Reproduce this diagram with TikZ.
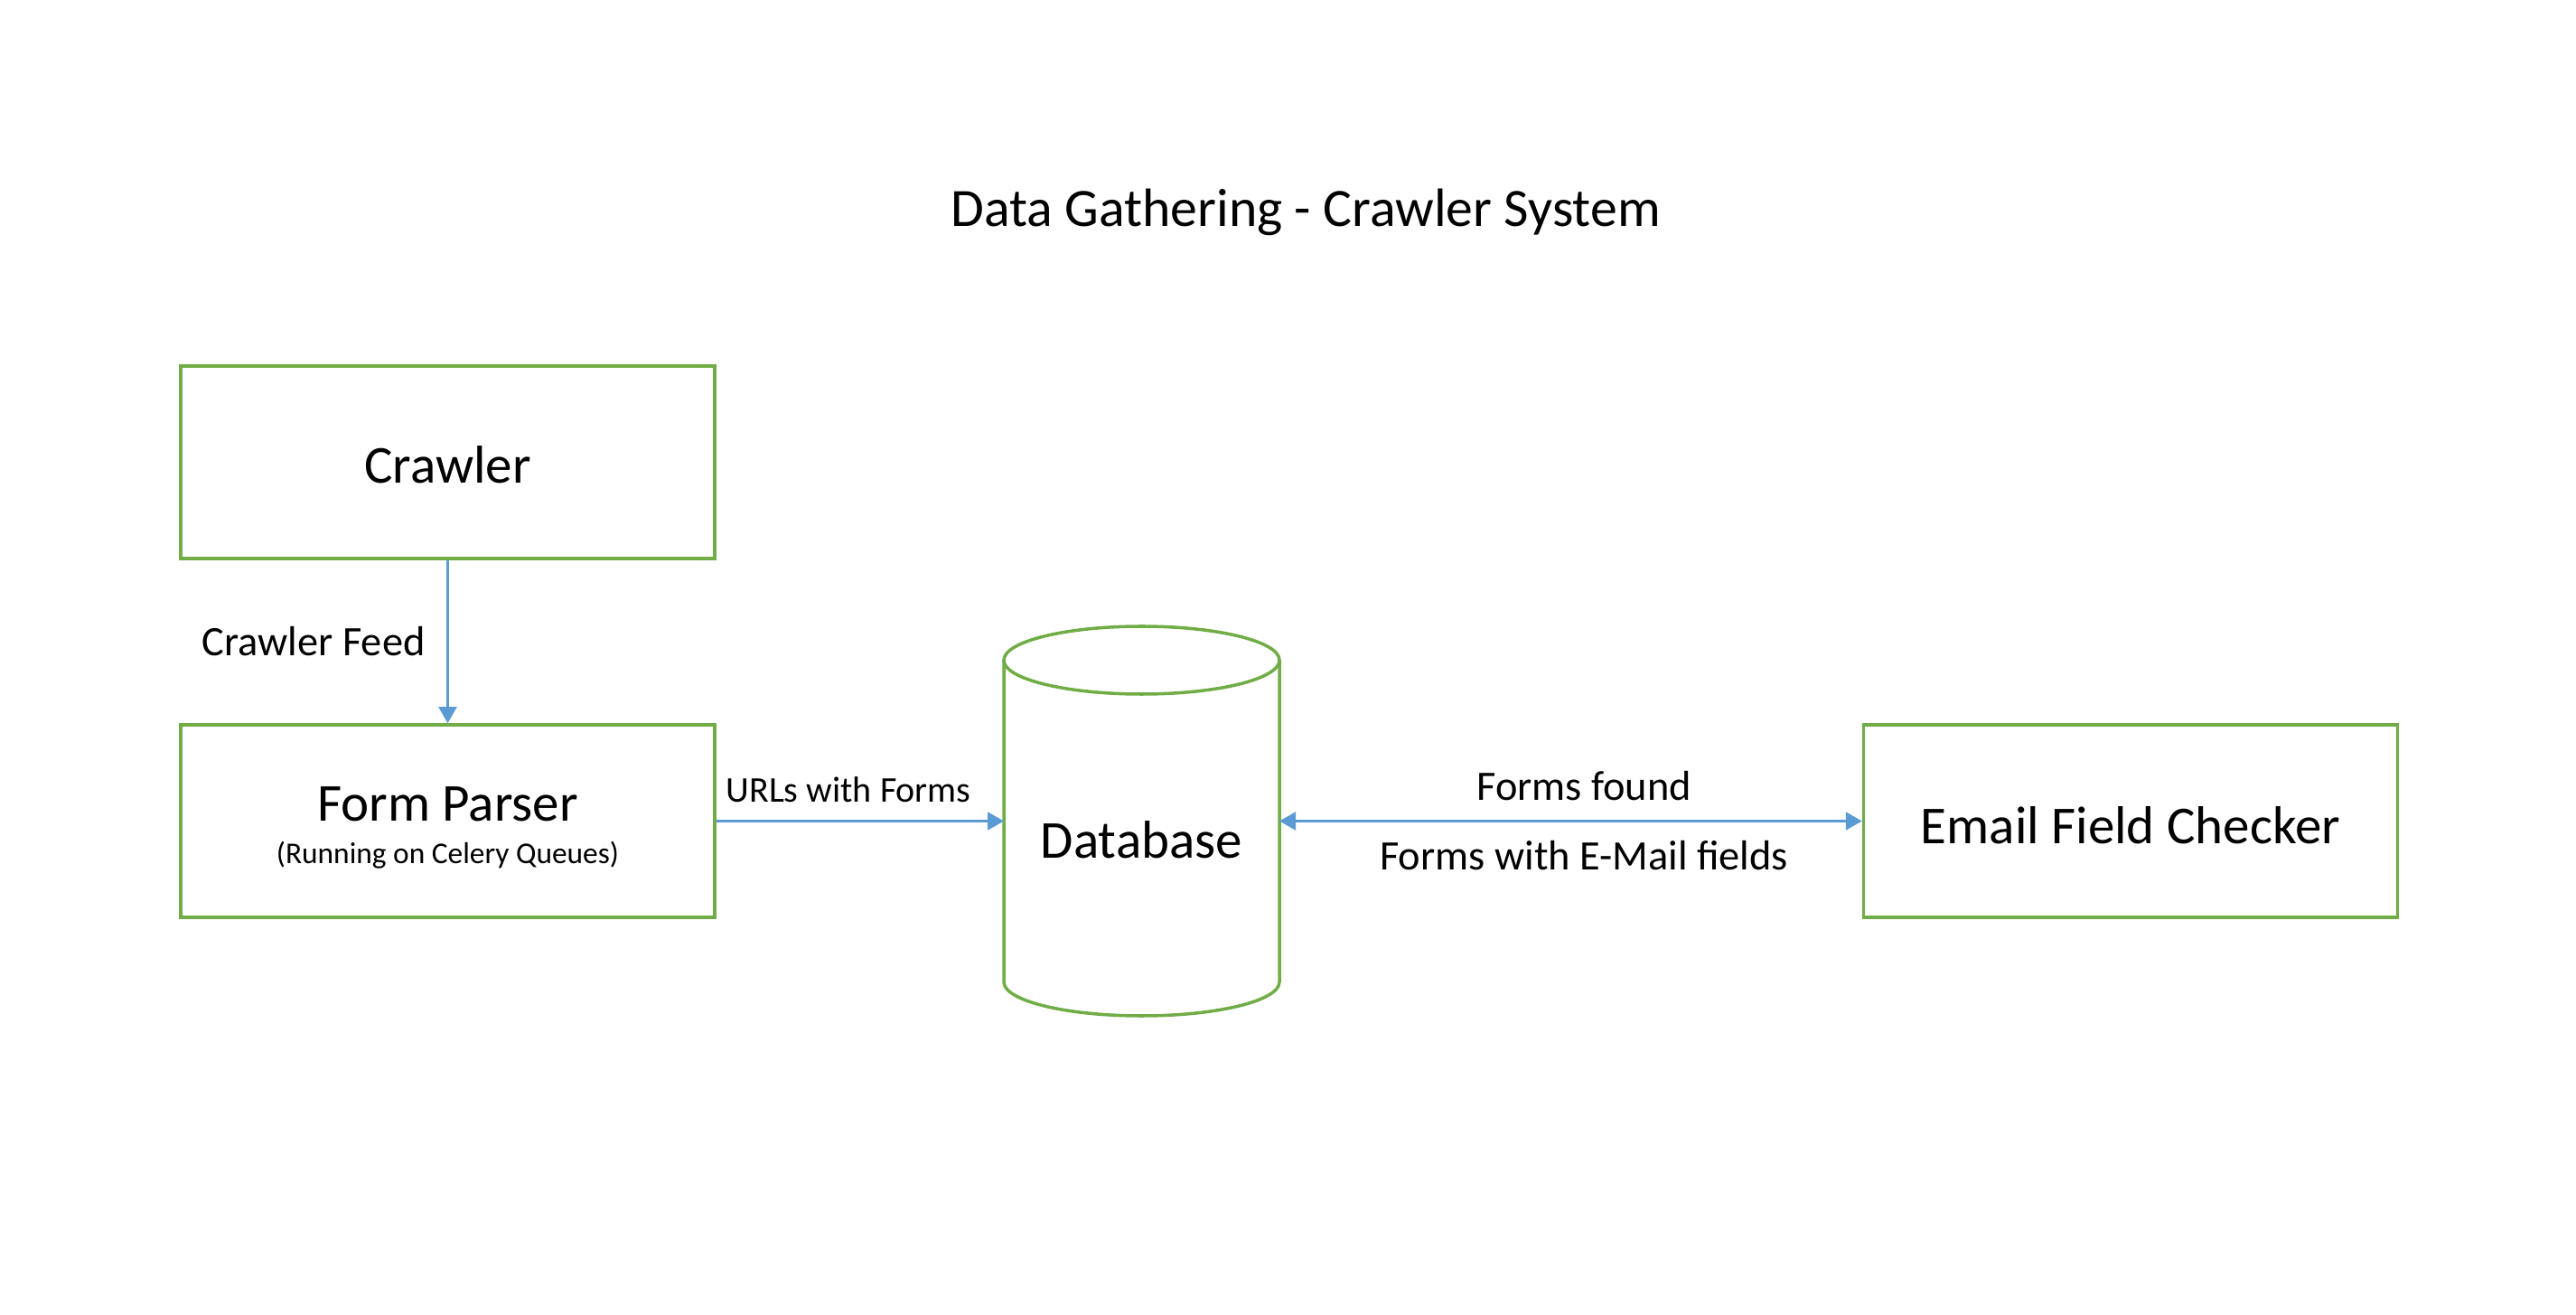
\documentclass[tikz,border=0pt]{standalone}
\usepackage{fontspec}
\setmainfont{Carlito}
\usetikzlibrary{arrows.meta}
\definecolor{boxgreen}{HTML}{70AD47}
\definecolor{linkblue}{HTML}{5B9BD5}

\begin{document}
\begin{tikzpicture}
\tikzstyle{unit}=[draw=boxgreen,line width=1pt,minimum width=5.91cm,minimum height=2.13cm,font=\fontsize{16.8}{20}\selectfont];
\tikzstyle{flow}=[draw=linkblue,line width=0.6pt,>={Triangle[length=0.18cm,width=0.2cm]},->];
\tikzstyle{tag}=[inner sep=0pt,font=\fontsize{13.2}{16}\selectfont];
\useasboundingbox (0,0) rectangle (28.51,14.54);
\node (title) [anchor=base,font=\fontsize{17}{20}\selectfont] at (14.45,12.03) {Data Gathering - Crawler System};
\node (crawler) [unit] at (4.955,9.425) {\raisebox{-0.03cm}[\height][\depth]{Crawler}};
\node (parser) [unit,align=center,font=\fontsize{9.5}{13.1}\selectfont] at (4.955,5.455) {\raisebox{-0.07cm}[\height][\depth]{\fontsize{16.8}{13.1}\selectfont Form Parser}\\\raisebox{-0.08cm}[\height][\depth]{(Running on Celery Queues)}};
\node (db) [outer sep=0pt,minimum width=3.05cm,minimum height=4.31cm] at (12.635,5.455) {};
\node (dbtext) [anchor=base,font=\fontsize{16.8}{20}\selectfont] at ([yshift=-0.405cm]db.center) {Database};
\node (checker) [unit] at (23.58,5.455) {\raisebox{-0.05cm}[\height][\depth]{Email Field Checker}};
% database cylinder
\draw[boxgreen,line width=1pt] ([yshift=-0.375cm]db.north west) -- ([yshift=0.375cm]db.south west) arc[start angle=180,end angle=360,x radius=1.525cm,y radius=0.375cm] -- ([yshift=-0.375cm]db.north east);
\draw[boxgreen,line width=1pt] ([yshift=-0.375cm]db.north) ellipse [x radius=1.525cm,y radius=0.375cm];
% links
\draw[flow] (crawler) -- node (feed) [tag,left=0.24cm] {Crawler Feed} (parser);
\draw[flow] (parser) -- node (urls) [tag,above=0.2cm,pos=0.46,font=\fontsize{11.4}{14}\selectfont] {URLs with Forms} (db);
\draw[flow,<->] (db) -- node (found) [tag,above=0.22cm,pos=0.523] {Forms found} node (withmail) [tag,below=0.21cm,pos=0.523] {Forms with E-Mail fields} (checker);
\end{tikzpicture}
\end{document}
